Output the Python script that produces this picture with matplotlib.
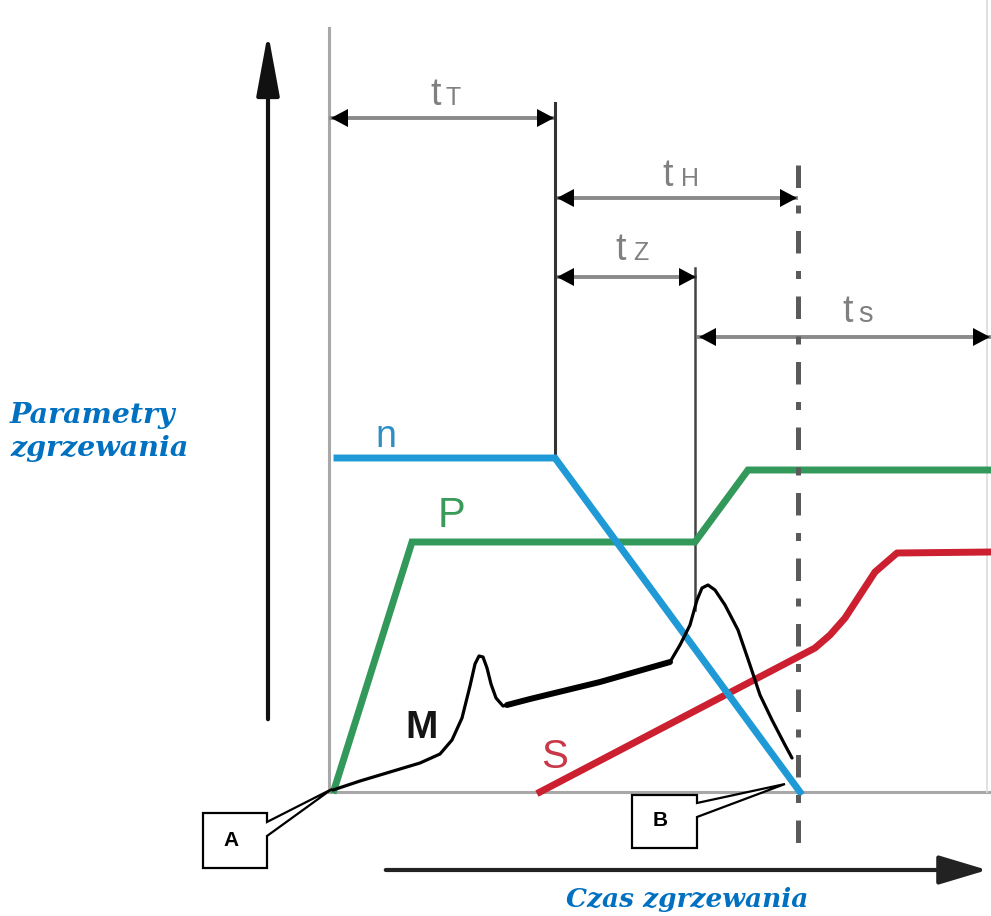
import matplotlib
matplotlib.use('Agg')
from matplotlib import pyplot as plt
from matplotlib.patches import Polygon, FancyArrowPatch

# coordinates: x = time from the left axis, y = level above the base line
n_time = [8, 226, 471]
n_level = [334, 334, 0]

p_time = [5, 83, 366, 419, 662]
p_level = [2, 250, 250, 322, 322]

s_time = [211, 486, 501, 516, 531, 546, 568, 662]
s_level = [0, 144, 157, 174, 197, 220, 239, 240]

# torque M: rise, first peak, plateau, second peak, drop
m_rise_time = [4, 31, 61, 91, 111, 123, 133, 141, 146, 150, 154, 158, 162, 167, 174, 178]
m_rise_level = [2, 11, 20, 29, 38, 52, 74, 106, 128, 136, 135, 124, 108, 94, 86, 87]
m_flat_time = [178, 201, 271, 341]
m_flat_level = [87, 93, 110, 130]
m_fall_time = [341, 351, 361, 368, 373, 379, 386, 396, 409, 421, 431, 443, 456, 463]
m_fall_level = [130, 147, 167, 192, 204, 207, 202, 187, 162, 127, 97, 72, 47, 34]

# phase boundaries and dimension lines
t_end_friction = 226   # end of t_T
t_end_brake = 368      # end of t_Z
t_end_hold = 469       # end of t_H
t_right = 662
dims = {
    'T': (0, t_end_friction, 674),
    'H': (t_end_friction, t_end_hold, 594),
    'Z': (t_end_friction, t_end_brake, 515),
    's': (t_end_brake, t_right, 455),
}
dim_labels = {
    'T': (101, 116, 687),
    'H': (333, 352, 606),
    'Z': (286, 304, 532),
    's': (513, 529, 470),
}

BLUE = '#1f9ad6'
GREEN = '#33995a'
RED = '#cc1f30'
TEXT_BLUE = '#0070c0'
DIM_GRAY = '#8a8a8a'

fig = plt.figure(figsize=(9.91, 9.16), dpi=100)
ax = fig.add_axes([0, 0, 1, 1])
ax.set_xlim(-329, 662)
ax.set_ylim(-124, 792)
ax.axis('off')

# frame of the diagram
ax.plot([0, 0], [0, 764], color='#a8a8a8', lw=2.2, zorder=1)
ax.plot([0, t_right], [0, 0], color='#a8a8a8', lw=2.2, zorder=1)
ax.plot([658, 658], [0, 792], color='#dcdcdc', lw=1.2, zorder=1)

# outer axis arrows
ax.add_patch(FancyArrowPatch((-61, 70), (-61, 762), arrowstyle='-|>,head_length=38,head_width=7',
                             mutation_scale=1, color='#111111', lw=3, zorder=3))
ax.add_patch(FancyArrowPatch((54, -78), (661, -78), arrowstyle='-|>,head_length=30,head_width=9',
                             mutation_scale=1, color='#222222', lw=3, zorder=3))


def head(x_tip, y, direction):
    L, W = 17, 9
    ax.fill([x_tip, x_tip - direction * L, x_tip - direction * L], [y, y + W, y - W],
            color='black', lw=0, zorder=4)


for key, (x0, x1, y) in dims.items():
    ax.plot([x0, x1], [y, y], color=DIM_GRAY, lw=2.8, zorder=3, solid_capstyle='butt')
    head(x0 + 2, y, -1)
    head(x1 - 1, y, 1)
    tx, sx, by = dim_labels[key]
    ax.text(tx, by, 't', fontsize=27, color='#808080', family='Liberation Sans',
            va='baseline', ha='left', zorder=4)
    ax.text(sx, by, key.upper() if key != 's' else 's', fontsize=18 if key != 's' else 21,
            color='#808080', family='Liberation Sans', va='baseline', ha='left', zorder=4)

# phase boundary lines
ax.plot([t_end_friction, t_end_friction], [689, 334], color='#333333', lw=2.2, zorder=3)
ax.plot([t_end_brake - 2, t_end_brake - 2], [524, 182], color='#444444', lw=1.8, zorder=3)
ax.plot([t_end_hold, t_end_hold], [627, -62], color='#5a5a5a', lw=3.6,
        linestyle=(0, (4.5, 3.5, 1.6, 3.5)), dash_capstyle='butt', zorder=7)

# process curves
ax.plot(p_time, p_level, color=GREEN, lw=5, zorder=4, solid_joinstyle='miter')
ax.plot(s_time, s_level, color=RED, lw=5, zorder=5, solid_joinstyle='round')
ax.plot(n_time, n_level, color=BLUE, lw=5, zorder=5, solid_joinstyle='miter')
ax.plot(m_rise_time, m_rise_level, color='black', lw=2.3, zorder=6, solid_capstyle='round')
ax.plot(m_flat_time, m_flat_level, color='black', lw=4.3, zorder=6, solid_capstyle='round')
ax.plot(m_fall_time, m_fall_level, color='black', lw=2.3, zorder=6, solid_capstyle='round')

# curve labels
ax.text(46, 345, 'n', fontsize=27, color='#2f8fc4', family='Liberation Sans', va='baseline')
ax.text(109, 265, 'P', fontsize=30, color='#3a9a5a', family='Liberation Sans', va='baseline')
ax.text(212, 24, 'S', fontsize=29, color='#c83848', family='Liberation Sans', va='baseline')
ax.text(76, 54, 'M', fontsize=28, color='#151515', family='Liberation Sans',
        fontweight='bold', va='baseline')

# callouts A and B
callouts = {
    'A': dict(box=(-126, -62, -21, -76), notch=(-30, -44), tip=(3, 3), text=(-98, -48)),
    'B': dict(box=(303, 368, -3, -56), notch=(-11, -25), tip=(456, 8), text=(331, -28)),
}
for name, c in callouts.items():
    x0, x1, ytop, ybot = c['box']
    n0, n1 = c['notch']
    verts = [(x0, ytop), (x1, ytop), (x1, n0), c['tip'], (x1, n1), (x1, ybot), (x0, ybot)]
    ax.add_patch(Polygon(verts, closed=True, facecolor='white', edgecolor='black', lw=1.6, zorder=8))
    ax.text(*c['text'], name, fontsize=15, fontweight='bold', family='Liberation Sans',
            ha='center', va='center', zorder=9)

# axis titles
title_font = dict(color=TEXT_BLUE, family='DejaVu Serif', fontweight='bold', fontstyle='italic')
ax.text(-319, 369, 'Parametry', fontsize=20.5, va='baseline', **title_font)
ax.text(-319, 336, 'zgrzewania', fontsize=20.5, va='baseline', **title_font)
ax.text(358, -115, 'Czas zgrzewania', fontsize=19, ha='center', va='baseline', zorder=9,
        **title_font)

plt.savefig('out.png', dpi=100)
